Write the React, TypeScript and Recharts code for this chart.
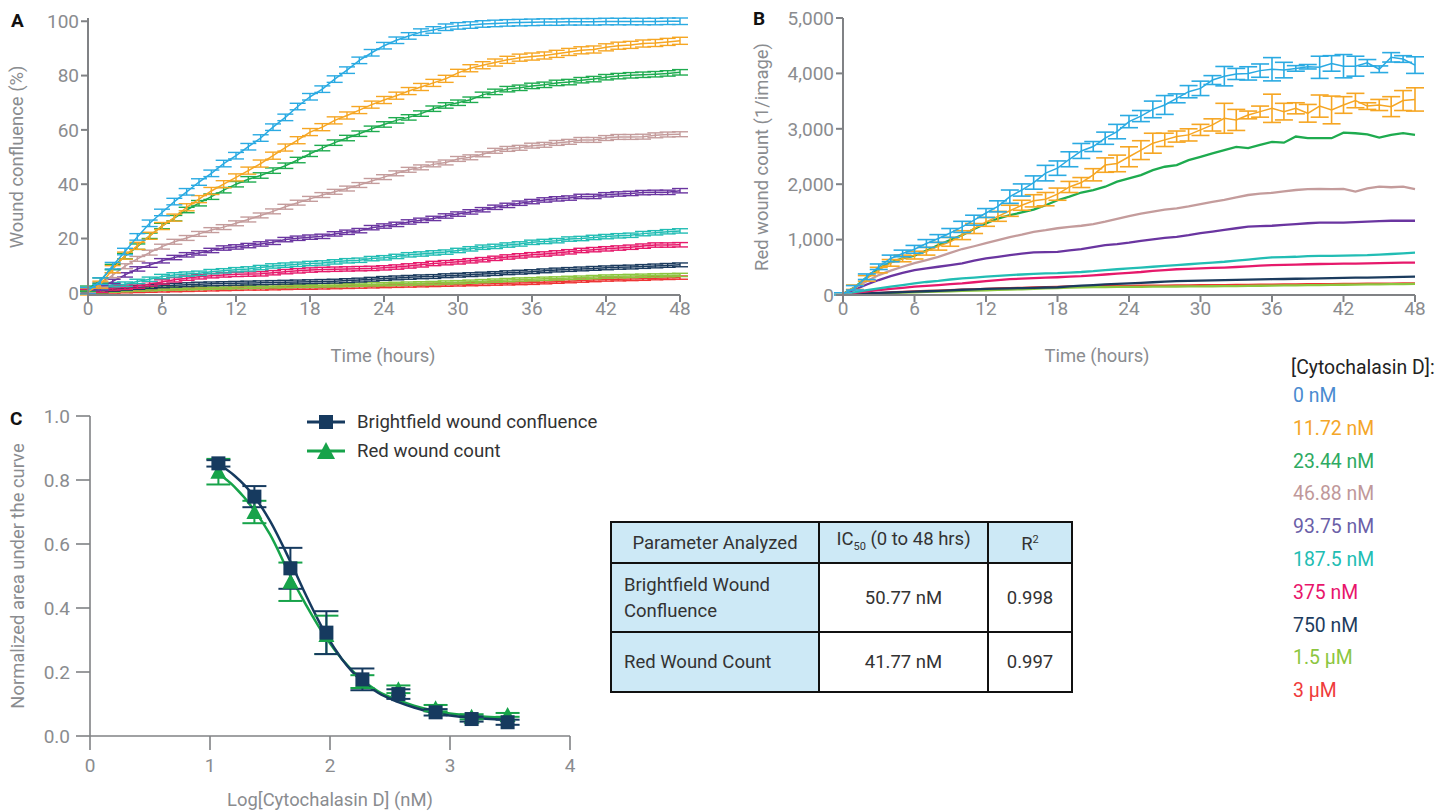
import React from 'react';
import { LineChart, Line, XAxis, YAxis, ErrorBar, ComposedChart, Scatter } from 'recharts';

const FONT = 'Roboto, "Noto Sans", Arial, sans-serif';
const AXIS = '#808285';
const TICK = '#8a8c8f';
const TXT = '#333333';

// time axis (hours) shared by panels A and B
const HOURS = [0, 1, 2, 3, 4, 5, 6, 7, 8, 9, 10, 11, 12, 13, 14, 15, 16, 17, 18, 19, 20, 21, 22, 23, 24,
  25, 26, 27, 28, 29, 30, 31, 32, 33, 34, 35, 36, 37, 38, 39, 40, 41, 42, 43, 44, 45, 46, 47, 48];
const TIME_TICKS = [0, 6, 12, 18, 24, 30, 36, 42, 48];
const A_TICKS = [0, 20, 40, 60, 80, 100];
const B_TICKS = [0, 1000, 2000, 3000, 4000, 5000];

const DOSES = ['0 nM', '11.72 nM', '23.44 nM', '46.88 nM', '93.75 nM', '187.5 nM', '375 nM', '750 nM', '1.5 µM', '3 µM'];
const COLORS = ['#2aaae2', '#f6a623', '#1eab4f', '#c49c9c', '#6a35a0', '#22bdb4', '#e6196b', '#1b3b5e', '#8cc63f', '#ee3434'];
const LEGEND_COLORS = ['#4a8bd0', '#f4a628', '#2eaa62', '#c0989a', '#6b5fa8', '#22bdb3', '#e8156b', '#1d3c5e', '#8cc63f', '#ef3b3b'];

// A: wound confluence (%)
const A_0 = [0.8, 4.3, 10, 15.2, 20.6, 25.6, 29.6, 33.6, 37.2, 40.8, 44, 47.6, 50.5, 53.8, 57, 61, 64.6, 68.6, 72.2, 75, 78.7, 82, 85.6, 88.4, 91,
  93, 94.6, 96, 96.8, 97.8, 98.3, 98.6, 99, 99.2, 99.4, 99.5, 99.6, 99.7, 99.7, 99.8, 99.8, 99.8, 99.9, 99.9, 99.9, 99.9, 99.9, 100, 100];
const A_1 = [0.5, 3, 8.7, 13.7, 17.3, 21, 24.6, 27.7, 31.5, 34.5, 37.5, 40, 42.5, 45, 47.6, 50.5, 53.5, 56.2, 59.2, 61, 63.5, 65.3, 67.3, 69.3, 71,
  72.6, 74.3, 75.8, 77.3, 78.8, 81, 82.7, 83.8, 84.8, 85.8, 86.6, 87, 87.4, 88, 88.7, 89.3, 89.6, 90.4, 91, 91.3, 91.8, 92, 92.4, 92.8];
const A_2 = [1.5, 4.5, 9.5, 13.5, 17, 21, 24.6, 27.5, 30.5, 33, 35.4, 37.8, 40, 41.8, 43.2, 45, 46.8, 48.9, 51.2, 53.3, 55.3, 57, 58.6, 60.4, 62,
  63.5, 64.6, 66, 67.8, 69, 70, 71.1, 72.9, 74, 75, 75.5, 76.2, 76.6, 77.3, 77.6, 78.3, 78.7, 79.4, 79.8, 80.1, 80.3, 80.5, 80.8, 81.2];
const A_3 = [1, 3, 6.5, 9.8, 12.5, 14.8, 17, 18.8, 20.2, 21.7, 23.1, 24.2, 25.6, 27, 28.5, 30, 31.7, 33.2, 34.6, 36, 37.2, 38.4, 39.7, 41.2, 42.6,
  44, 45.3, 46.2, 47.3, 48, 49.3, 49.9, 51, 52.3, 53, 53.4, 54.2, 54.5, 55.2, 55.6, 56.3, 56.3, 57, 57.4, 57.4, 57.5, 58, 58.3, 58.4];
const A_4 = [0.8, 1.8, 4.2, 6.6, 8.8, 10.2, 11.8, 13, 14, 14.7, 15.6, 16.5, 16.9, 17.4, 18, 18.6, 19.6, 20.1, 20.5, 20.8, 21.7, 22.3, 22.9, 24, 24.6,
  25.2, 26.1, 26.7, 27.4, 28.3, 29, 29.8, 30.6, 31.5, 32.2, 33, 33.6, 34.2, 34.6, 34.9, 35.5, 35.5, 36.1, 36.4, 36.6, 36.9, 37, 37, 37.6];
const A_5 = [1, 2, 3, 3.2, 4.2, 5, 6, 6.6, 6.9, 7.2, 7.8, 8.1, 8.5, 8.8, 9.3, 9.9, 10.2, 10.5, 10.8, 11, 11.4, 11.8, 12, 12.6, 12.9,
  13.4, 14, 14.3, 14.7, 15, 15.6, 16.2, 16.8, 17.1, 17.6, 18, 18.6, 18.9, 19.2, 19.8, 20, 20.4, 20.7, 21, 21.2, 21.8, 22.1, 22.5, 22.8];
const A_6 = [0.5, 1, 1.8, 2.1, 2.5, 3.3, 4, 4.8, 5.4, 5.9, 6.3, 6.6, 6.8, 6.9, 7, 7.4, 7.8, 8.1, 8.4, 8.6, 8.7, 8.8, 8.9, 9, 9.2,
  9.5, 9.9, 10.3, 10.8, 11.1, 11.4, 11.8, 12.2, 12.7, 13.2, 13.6, 14, 14.3, 14.7, 15.1, 15.6, 15.9, 16.2, 16.5, 16.8, 17.2, 17.6, 17.6, 17.7];
const A_7 = [0.5, 0.8, 1.3, 1.7, 2, 2.3, 2.6, 2.8, 3, 3.2, 3.3, 3.4, 3.5, 3.6, 3.7, 3.8, 3.9, 4, 4.1, 4.2, 4.3, 4.5, 4.7, 5, 5.3,
  5.5, 5.7, 5.9, 6, 6.3, 6.5, 6.7, 6.9, 7.1, 7.4, 7.6, 7.8, 8.1, 8.4, 8.6, 8.8, 9, 9.2, 9.4, 9.5, 9.7, 9.9, 10.1, 10.3];
const A_8 = [0.3, 0.5, 0.8, 1, 1.2, 1.3, 1.5, 1.6, 1.7, 1.8, 1.9, 2, 2.1, 2.2, 2.3, 2.4, 2.5, 2.6, 2.6, 2.7, 2.8, 2.9, 3, 3.1, 3.2,
  3.3, 3.4, 3.5, 3.6, 3.8, 3.9, 4.1, 4.3, 4.5, 4.7, 4.9, 5, 5.2, 5.3, 5.5, 5.6, 5.8, 6, 6.1, 6.2, 6.3, 6.4, 6.5, 6.6];
const A_9 = [0.2, 0.3, 0.5, 0.6, 0.7, 0.8, 0.9, 1, 1.1, 1.2, 1.3, 1.4, 1.5, 1.6, 1.6, 1.7, 1.8, 1.9, 1.9, 2, 2.1, 2.2, 2.3, 2.4, 2.5,
  2.6, 2.7, 2.8, 2.9, 3, 3.1, 3.2, 3.3, 3.4, 3.5, 3.6, 3.7, 3.9, 4.1, 4.3, 4.5, 4.7, 4.9, 5, 5.1, 5.2, 5.4, 5.5, 5.6];
const A_ERR = [1.2, 1.3, 1, 0.9, 0.8, 0.8, 0.8, 0.7, 0.6, 0.6];

// B: red wound count (1/image)
const B_0 = [20, 130, 330, 510, 660, 750, 825, 930, 1020, 1120, 1230, 1350, 1480, 1600, 1775, 1895, 2030, 2200, 2290, 2450, 2600, 2680, 2830, 2950, 3130,
  3230, 3350, 3430, 3550, 3670, 3730, 3880, 3950, 3990, 4000, 4050, 4075, 4060, 4090, 4120, 4110, 4180, 4130, 4130, 4190, 4075, 4290, 4260, 4150];
const B_0_ERR = [20, 40, 50, 50, 60, 60, 70, 70, 70, 80, 100, 90, 80, 100, 120, 110, 120, 140, 130, 135, 135, 90, 110, 130, 110,
  100, 150, 170, 80, 110, 130, 80, 175, 100, 120, 120, 210, 140, 50, 40, 200, 140, 210, 180, 60, 60, 85, 60, 150];
const B_1 = [20, 140, 300, 450, 580, 660, 720, 790, 880, 960, 1080, 1200, 1320, 1420, 1520, 1620, 1700, 1730, 1820, 1950, 2030, 2170, 2345, 2375, 2495,
  2615, 2740, 2800, 2860, 2890, 2980, 3070, 3190, 3160, 3250, 3310, 3370, 3310, 3370, 3280, 3410, 3340, 3430, 3510, 3410, 3430, 3400, 3510, 3530];
const B_1_ERR = [20, 40, 50, 50, 60, 60, 70, 70, 70, 80, 80, 90, 80, 90, 100, 90, 110, 120, 110, 100, 90, 110, 130, 150, 180,
  170, 180, 120, 100, 110, 100, 110, 270, 190, 70, 100, 255, 150, 100, 160, 200, 250, 150, 130, 60, 100, 180, 180, 210];
const B_2 = [20, 140, 320, 480, 590, 660, 710, 800, 900, 990, 1080, 1190, 1290, 1380, 1440, 1490, 1540, 1620, 1710, 1775, 1850, 1895, 1955, 2045, 2105,
  2165, 2255, 2315, 2345, 2435, 2495, 2555, 2615, 2675, 2650, 2710, 2765, 2750, 2860, 2830, 2830, 2830, 2930, 2920, 2900, 2840, 2890, 2920, 2890];
const B_3 = [20, 130, 250, 360, 440, 510, 575, 630, 690, 760, 830, 880, 935, 990, 1045, 1090, 1140, 1170, 1205, 1230, 1250, 1280, 1325, 1375, 1425,
  1470, 1505, 1540, 1565, 1600, 1640, 1680, 1715, 1760, 1805, 1830, 1845, 1870, 1895, 1910, 1915, 1910, 1915, 1865, 1925, 1955, 1945, 1955, 1910];
const B_4 = [20, 100, 190, 270, 340, 400, 450, 480, 510, 540, 570, 620, 660, 690, 720, 745, 770, 775, 780, 805, 830, 865, 900, 920, 945,
  975, 1005, 1030, 1050, 1080, 1115, 1145, 1175, 1205, 1235, 1245, 1250, 1265, 1280, 1295, 1305, 1305, 1305, 1315, 1325, 1335, 1340, 1340, 1340];
const B_5 = [20, 50, 90, 120, 150, 180, 210, 235, 255, 280, 300, 315, 330, 345, 360, 370, 380, 390, 395, 405, 415, 430, 450, 465, 480,
  495, 510, 525, 540, 555, 570, 585, 600, 620, 640, 660, 680, 685, 690, 700, 705, 708, 712, 716, 720, 730, 740, 752, 765];
const B_6 = [15, 40, 65, 90, 110, 130, 150, 165, 180, 195, 210, 230, 250, 270, 285, 295, 305, 312, 320, 330, 340, 355, 370, 385, 400,
  415, 435, 450, 465, 472, 480, 488, 495, 505, 518, 530, 540, 545, 550, 555, 560, 562, 565, 568, 570, 575, 580, 583, 585];
const B_7 = [10, 20, 30, 38, 45, 52, 60, 68, 76, 85, 95, 102, 110, 115, 120, 125, 130, 135, 140, 155, 170, 180, 190, 200, 210,
  220, 230, 240, 250, 255, 260, 265, 270, 274, 278, 282, 285, 289, 293, 297, 300, 304, 308, 312, 315, 318, 322, 326, 330];
const B_8 = [5, 12, 20, 28, 35, 42, 50, 56, 62, 68, 74, 80, 86, 92, 98, 104, 110, 118, 126, 133, 140, 142, 143, 145, 147,
  148, 150, 151, 153, 155, 156, 158, 160, 162, 164, 167, 170, 172, 175, 177, 180, 182, 185, 187, 190, 193, 195, 197, 200];
const B_9 = [5, 15, 25, 35, 45, 55, 64, 72, 80, 88, 95, 102, 110, 117, 124, 130, 136, 142, 148, 154, 160, 162, 163, 165, 166,
  168, 169, 170, 172, 174, 176, 178, 180, 182, 184, 186, 188, 190, 192, 194, 196, 198, 200, 202, 204, 205, 207, 208, 210];

const A_SERIES = [A_0, A_1, A_2, A_3, A_4, A_5, A_6, A_7, A_8, A_9];
const B_SERIES = [B_0, B_1, B_2, B_3, B_4, B_5, B_6, B_7, B_8, B_9];

// C: dose response
const LOG_DOSE = [1.07, 1.37, 1.67, 1.97, 2.27, 2.57, 2.88, 3.18, 3.48];
const BF_AUC = [0.852, 0.748, 0.524, 0.323, 0.177, 0.131, 0.074, 0.053, 0.043];
const BF_ERR = [0.01, 0.033, 0.064, 0.067, 0.034, 0.015, 0.01, 0.008, 0.008];
const RW_AUC = [0.826, 0.7, 0.482, 0.316, 0.17, 0.146, 0.087, 0.06, 0.066];
const RW_ERR = [0.04, 0.035, 0.06, 0.06, 0.02, 0.012, 0.01, 0.008, 0.006];
const FIT_X = [1.07, 1.2, 1.37, 1.5, 1.67, 1.8, 1.97, 2.1, 2.27, 2.4, 2.57, 2.7, 2.88, 3.0, 3.18, 3.3, 3.48];
const BF_FIT = [0.85, 0.815, 0.748, 0.672, 0.545, 0.44, 0.315, 0.24, 0.17, 0.135, 0.106, 0.089, 0.071, 0.064, 0.057, 0.054, 0.051];
const RW_FIT = [0.82, 0.78, 0.705, 0.63, 0.5, 0.41, 0.305, 0.24, 0.175, 0.14, 0.112, 0.095, 0.078, 0.07, 0.063, 0.06, 0.057];
const C_X_TICKS = [0, 1, 2, 3, 4];
const C_Y_TICKS = [0, 0.2, 0.4, 0.6, 0.8, 1.0];

const TABLE_HEAD = ['Parameter Analyzed', 'IC50 (0 to 48 hrs)', 'R2'];
const TABLE_ROWS = [
  ['Brightfield Wound Confluence', '50.77 nM', '0.998'],
  ['Red Wound Count', '41.77 nM', '0.997'],
];

const NAVY = '#163a5f';
const GREEN = '#17a34a';

const aRows = HOURS.map((t, i) => {
  const r: any = { t };
  A_SERIES.forEach((s, k) => { r['s' + k] = s[i]; r['e' + k] = A_ERR[k]; });
  return r;
});
const bRows = HOURS.map((t, i) => {
  const r: any = { t };
  B_SERIES.forEach((s, k) => { r['s' + k] = s[i]; });
  r.e0 = B_0_ERR[i];
  r.e1 = B_1_ERR[i];
  return r;
});
const bfPts = LOG_DOSE.map((x, i) => ({ x, y: BF_AUC[i], err: BF_ERR[i] }));
const rwPts = LOG_DOSE.map((x, i) => ({ x, y: RW_AUC[i], err: RW_ERR[i] }));
const bfFit = FIT_X.map((x, i) => ({ x, y: BF_FIT[i] }));
const rwFit = FIT_X.map((x, i) => ({ x, y: RW_FIT[i] }));

const tickStyle = { fill: TICK, fontSize: 19, fontFamily: FONT };
const order = [9, 8, 7, 6, 5, 4, 3, 2, 1, 0];

const abs = (left: number, top: number, extra: any = {}) => ({ position: 'absolute' as const, left, top, ...extra });

function AxisTitle({ x, y, text, rotate }: { x: number; y: number; text: string; rotate?: boolean }) {
  return (
    <div style={abs(x, y, {
      transform: `translate(-50%, -50%)${rotate ? ' rotate(-90deg)' : ''}`,
      whiteSpace: 'nowrap', color: TICK, fontSize: 18.4, fontFamily: FONT,
    })}>{text}</div>
  );
}

function PanelLetter({ x, y, ch }: { x: number; y: number; ch: string }) {
  return <div style={abs(x, y, { transform: 'translateY(-50%)', fontWeight: 700, fontSize: 19, color: '#111', fontFamily: FONT })}>{ch}</div>;
}

function ChartA() {
  return (
    <LineChart width={700} height={370} data={aRows} margin={{ top: 18, right: 20, left: 28, bottom: 8 }}>
      <XAxis dataKey="t" type="number" domain={[0, 48]} ticks={TIME_TICKS} height={67}
        tick={tickStyle} tickSize={7} tickMargin={0}
        axisLine={{ stroke: AXIS, strokeWidth: 2 }} tickLine={{ stroke: AXIS, strokeWidth: 2 }} />
      <YAxis type="number" domain={[0, 100]} ticks={A_TICKS} width={60}
        tick={tickStyle} tickSize={7} tickMargin={2}
        axisLine={{ stroke: AXIS, strokeWidth: 2 }} tickLine={{ stroke: AXIS, strokeWidth: 2 }} />
      {order.map(k => (
        <Line key={k} dataKey={'s' + k} type="linear" stroke={COLORS[k]} strokeWidth={1.5}
          dot={false} isAnimationActive={false}>
          <ErrorBar dataKey={'e' + k} direction="y" width={8} stroke={COLORS[k]} strokeWidth={1.4} />
        </Line>
      ))}
    </LineChart>
  );
}

function ChartB() {
  return (
    <LineChart width={700} height={370} data={bRows} margin={{ top: 18, right: 25, left: 43, bottom: 8 }}>
      <XAxis dataKey="t" type="number" domain={[0, 48]} ticks={TIME_TICKS} height={67}
        tick={tickStyle} tickSize={7} tickMargin={0}
        axisLine={{ stroke: AXIS, strokeWidth: 2 }} tickLine={{ stroke: AXIS, strokeWidth: 2 }} />
      <YAxis type="number" domain={[0, 5000]} ticks={B_TICKS} width={60}
        tickFormatter={(v: number) => v.toLocaleString('en-US')}
        tick={tickStyle} tickSize={7} tickMargin={2}
        axisLine={{ stroke: AXIS, strokeWidth: 2 }} tickLine={{ stroke: AXIS, strokeWidth: 2 }} />
      {order.map(k => (
        <Line key={k} dataKey={'s' + k} type="linear" stroke={COLORS[k]} strokeWidth={k < 2 ? 1.5 : 2.3}
          dot={false} isAnimationActive={false}>
          {k < 2 && <ErrorBar dataKey={'e' + k} direction="y" width={9} stroke={COLORS[k]} strokeWidth={1.6} />}
        </Line>
      ))}
    </LineChart>
  );
}

const Square = (p: any) => <rect x={p.cx - 7} y={p.cy - 7} width={14} height={14} fill={NAVY} />;
const Triangle = (p: any) => (
  <polygon points={`${p.cx},${p.cy - 8} ${p.cx + 8},${p.cy + 7} ${p.cx - 8},${p.cy + 7}`} fill={GREEN} />
);

function ChartC() {
  return (
    <ComposedChart width={600} height={412} margin={{ top: 16, right: 30, left: 30, bottom: 36 }}>
      <XAxis dataKey="x" type="number" domain={[0, 4]} ticks={C_X_TICKS} height={40}
        tick={tickStyle} tickSize={14} tickMargin={9}
        axisLine={{ stroke: AXIS, strokeWidth: 1.6 }} tickLine={{ stroke: AXIS, strokeWidth: 1.6 }} />
      <YAxis dataKey="y" type="number" domain={[0, 1]} ticks={C_Y_TICKS} width={60}
        tickFormatter={(v: number) => v.toFixed(1)}
        tick={tickStyle} tickSize={14} tickMargin={6}
        axisLine={{ stroke: AXIS, strokeWidth: 1.6 }} tickLine={{ stroke: AXIS, strokeWidth: 1.6 }} />
      <Line data={rwFit} dataKey="y" type="monotone" stroke={GREEN} strokeWidth={2.5} dot={false} isAnimationActive={false} />
      <Line data={bfFit} dataKey="y" type="monotone" stroke={NAVY} strokeWidth={2.5} dot={false} isAnimationActive={false} />
      <Scatter data={rwPts} dataKey="y" shape={Triangle} isAnimationActive={false}>
        <ErrorBar dataKey="err" direction="y" width={12} stroke={GREEN} strokeWidth={2} />
      </Scatter>
      <Scatter data={bfPts} dataKey="y" shape={Square} isAnimationActive={false}>
        <ErrorBar dataKey="err" direction="y" width={12} stroke={NAVY} strokeWidth={2} />
      </Scatter>
    </ComposedChart>
  );
}

function LegendC() {
  const row = (top: number, color: string, marker: React.ReactNode, label: string) => (
    <div style={abs(305, top, { display: 'flex', alignItems: 'center', height: 24 })}>
      <svg width={42} height={24}>
        <line x1={2} y1={12} x2={40} y2={12} stroke={color} strokeWidth={3} />
        {marker}
      </svg>
      <span style={{ marginLeft: 10, fontSize: 18.6, color: TXT, fontFamily: FONT, whiteSpace: 'nowrap' }}>{label}</span>
    </div>
  );
  return (
    <>
      {row(410, NAVY, <rect x={14} y={5} width={14} height={14} fill={NAVY} />, 'Brightfield wound confluence')}
      {row(439, GREEN, <polygon points="21,3 30,20 12,20" fill={GREEN} />, 'Red wound count')}
    </>
  );
}

function IcTable() {
  const cell = (bg: string, align: 'left' | 'center', h: number, w: number) => ({
    border: '2px solid #111', background: bg, textAlign: align, height: h, width: w,
    padding: align === 'left' ? '0 0 0 12px' : 0, boxSizing: 'border-box' as const, lineHeight: '26px',
  });
  const LB = '#cde9f6';
  return (
    <table style={{
      position: 'absolute', left: 610, top: 521, borderCollapse: 'collapse', fontFamily: FONT,
      fontSize: 18.5, color: TXT, tableLayout: 'fixed', width: 461,
    }}>
      <tbody>
        <tr>
          <td style={cell(LB, 'center', 41, 208)}>{TABLE_HEAD[0]}</td>
          <td style={cell(LB, 'center', 41, 169)}>IC<sub style={{ fontSize: 11 }}>{TABLE_HEAD[1].slice(2, 4)}</sub>{TABLE_HEAD[1].slice(4)}</td>
          <td style={cell(LB, 'center', 41, 84)}>R<sup style={{ fontSize: 11 }}>{TABLE_HEAD[2].slice(1)}</sup></td>
        </tr>
        {TABLE_ROWS.map((r, i) => (
          <tr key={i}>
            <td style={{ ...cell(LB, 'left', i === 0 ? 69 : 60, 208), paddingRight: 20 }}>{r[0]}</td>
            <td style={cell('#fff', 'center', i === 0 ? 69 : 60, 169)}>{r[1]}</td>
            <td style={cell('#fff', 'center', i === 0 ? 69 : 60, 84)}>{r[2]}</td>
          </tr>
        ))}
      </tbody>
    </table>
  );
}

function DoseLegend() {
  return (
    <div style={abs(1291, 356, { fontFamily: FONT, fontSize: 19.4 })}>
      <div style={{ color: '#222', height: 22, whiteSpace: 'nowrap' }}>[Cytochalasin D]:</div>
      {DOSES.map((d, i) => (
        <div key={d} style={{ position: 'absolute', left: 2, top: 28 + i * 32.8, color: LEGEND_COLORS[i], whiteSpace: 'nowrap' }}>{d}</div>
      ))}
    </div>
  );
}

export default function App() {
  return (
    <div style={{ position: 'absolute', left: 0, top: 0, width: 1445, height: 812, background: '#fff', overflow: 'hidden', fontFamily: FONT }}>
      <div style={abs(0, 0)}><ChartA /></div>
      <div style={abs(740, 0)}><ChartB /></div>
      <div style={abs(0, 400)}><ChartC /></div>

      <PanelLetter x={11} y={20} ch="A" />
      <PanelLetter x={753} y={18} ch="B" />
      <PanelLetter x={10} y={418} ch="C" />

      <AxisTitle x={16} y={157} text="Wound confluence (%)" rotate />
      <AxisTitle x={383} y={355} text="Time (hours)" />
      <AxisTitle x={761} y={157} text="Red wound count (1/image)" rotate />
      <AxisTitle x={1097} y={355} text="Time (hours)" />
      <AxisTitle x={17} y={576} text="Normalized area under the curve" rotate />
      <AxisTitle x={330} y={799} text="Log[Cytochalasin D] (nM)" />

      <LegendC />
      <IcTable />
      <DoseLegend />
    </div>
  );
}
